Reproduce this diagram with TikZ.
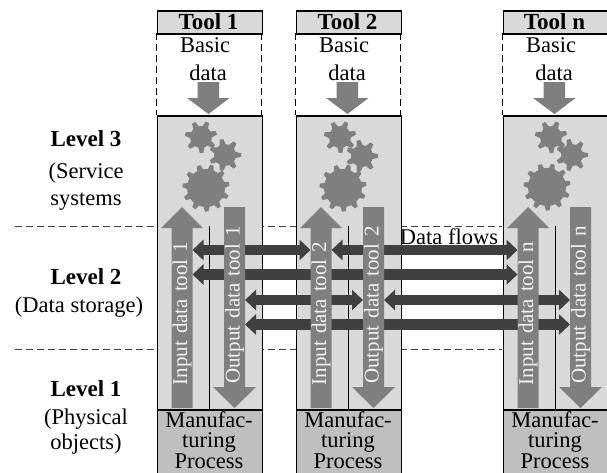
\documentclass[tikz,border=0pt]{standalone}
\usepackage{fontspec}
\setmainfont{Liberation Serif}
\usetikzlibrary{arrows.meta,calc}
\definecolor{panelgrey}{HTML}{D9D9D9}
\definecolor{procgrey}{HTML}{BFBFBF}
\definecolor{arrowgrey}{HTML}{7F7F7F}
\definecolor{flowgrey}{HTML}{404040}
\definecolor{txtwhite}{HTML}{F2F2F2}
\tikzset{
  lab/.style={inner sep=0pt,anchor=base,font=\fontsize{22.5}{24}\selectfont},
  blab/.style={lab,font=\fontsize{23}{24}\selectfont\bfseries},
  vlab/.style={inner sep=0pt,rotate=90,text=txtwhite,font=\fontsize{21}{24}\selectfont},
  box/.style={draw=black,line width=1.5pt},
  flowarrow/.style={draw=flowgrey,line width=10.5pt,{Triangle[length=11pt,width=20pt]}-{Triangle[length=11pt,width=20pt]}},
  levelline/.style={draw=black!75,line width=0.9pt,dash pattern=on 7pt off 4pt},
  sideline/.style={draw=black,line width=1pt,dash pattern=on 7pt off 4pt},
}
\newcommand{\gearshape}[6]{% x, y, body radius, outer radius, teeth, start angle
  \begin{scope}[shift={(#1,#2)}]
    \fill[arrowgrey] (0,0) circle[x=1pt,y=1pt,radius=#3pt];
    \foreach \k in {1,...,#5}{
      \pgfmathsetmacro{\ang}{#6+360*\k/#5}
      \fill[arrowgrey,rotate=\ang] (#3-2,-3.4) -- (#4,-1.8) -- (#4,1.8) -- (#3-2,3.4) -- cycle;
    }
  \end{scope}}
\newcommand{\toolcol}[9]{% id, dx, label, g1x g1y g2x g2y g3x g3y (abs)
  \def\dx{#2}
  \node[box,fill=panelgrey,minimum width=105pt,minimum height=23pt,inner sep=0pt,anchor=north west] (head#1) at (\dx+156.5,10) {};
  \node[blab] (title#1) at (\dx+208.5,29) {#3};
  \draw[sideline] (\dx+156.5,33) -- (\dx+156.5,115);
  \draw[sideline] (\dx+261.5,33) -- (\dx+261.5,115);
  \node[lab] (basic#1) at (\dx+205,52) {Basic};
  \node[lab] (data#1) at (\dx+208,80) {data};
  \fill[arrowgrey] (\dx+197.5,82) -- (\dx+219,82) -- (\dx+219,98) -- (\dx+229.5,98) -- (\dx+208.5,114) -- (\dx+187,98) -- (\dx+197.5,98) -- cycle;
  \node[box,fill=panelgrey,minimum width=105pt,minimum height=294pt,inner sep=0pt,anchor=north west] (panel#1) at (\dx+156.5,115) {};
  \node[draw=black,line width=0.9pt,fill=procgrey,minimum width=105pt,minimum height=70pt,inner sep=0pt,anchor=north west] (proc#1) at (\dx+156.5,409.5) {};
  \gearshape{#4}{#5}{11}{16}{7}{15}
  \gearshape{#6}{#7}{11}{16}{7}{0}
  \gearshape{#8}{#9}{19}{23.5}{11}{10}
  \coordinate (inL#1) at (\dx+171.5,0);
  \coordinate (inR#1) at (\dx+192.5,0);
  \coordinate (outL#1) at (\dx+224,0);
  \coordinate (outR#1) at (\dx+245,0);
  \coordinate (midA#1) at (\dx+209,226);
  \coordinate (midB#1) at (\dx+209,409);
  \draw[black,line width=1pt] (midA#1) -- (midB#1);
}
\newcommand{\toolarrows}[3]{% id, dx, tag
  \def\dx{#2}
  \fill[arrowgrey] (\dx+171.5,408) -- (\dx+171.5,228) -- (\dx+161,228) -- (\dx+182,207) -- (\dx+203,228) -- (\dx+192.5,228) -- (\dx+192.5,408) -- cycle;
  \fill[arrowgrey] (\dx+224,207) -- (\dx+245,207) -- (\dx+245,387) -- (\dx+256,387) -- (\dx+234.5,408) -- (\dx+213,387) -- (\dx+224,387) -- cycle;
  \node[vlab] (inlab#1) at (\dx+182,313.5) {Input\hspace{7pt}data\hspace{7pt}tool\hspace{7pt}#3};
  \node[vlab] (outlab#1) at (\dx+234.5,305) {Output\hspace{7pt}data\hspace{7pt}tool\hspace{7pt}#3};
}
\begin{document}
\begin{tikzpicture}[x=1pt,y=-1pt]
\useasboundingbox (0,0) rectangle (607,472);
\fill[white] (0,0) rectangle (607,472);
\coordinate (la) at (15,226.5); \coordinate (lae) at (502,226.5);
\coordinate (lb) at (15,349.5); \coordinate (lbe) at (502,349.5);
\draw[levelline] (la) -- (lae);
\draw[levelline] (lb) -- (lbe);
\node[lab] (datafl) at (449,244) {Data flows};
\toolcol{1}{0}{Tool 1}{201}{137}{225}{155}{206}{188}
\toolcol{2}{139}{Tool 2}{340}{137}{362}{156}{343}{188}
\toolcol{n}{346}{Tool n}{551}{137}{572}{155}{547}{187}
\coordinate (r1) at (0,250);
\coordinate (r2) at (0,274.5);
\coordinate (r3) at (0,300);
\coordinate (r4) at (0,324.5);
\draw[flowarrow] (inR1 |- r1) -- (inL2 |- r1);
\draw[flowarrow] (inR2 |- r1) -- (inLn |- r1);
\draw[flowarrow] (inR1 |- r2) -- (inLn |- r2);
\draw[flowarrow] (outR1 |- r3) -- (outL2 |- r3);
\draw[flowarrow] (outR2 |- r3) -- (outLn |- r3);
\draw[flowarrow] (outR1 |- r4) -- (outLn |- r4);
\toolarrows{1}{0}{1}
\toolarrows{2}{139}{2}
\toolarrows{n}{346}{n}
\foreach \nm/\xx/\yy/\tt/\st in {a/86/146/Level 3/blab,b/86/178/(Service/lab,c/86/205/systems/lab,d/86/284/Level 2/blab,e/79/312/(Data storage)/lab,f/86/396/Level 1/blab,g/86/424/(Physical/lab,h/86/449/objects)/lab}{
  \node[\st] (txt\nm) at (\xx,\yy) {\tt};
}
\foreach \id/\dx in {1/0,2/139,n/346}{
  \node[lab] (man\id) at (\dx+209,427) {Manufac-};
  \node[lab] (tur\id) at (\dx+209,447) {turing};
  \node[lab] (pro\id) at (\dx+209,468) {Process};
}
\end{tikzpicture}
\end{document}
